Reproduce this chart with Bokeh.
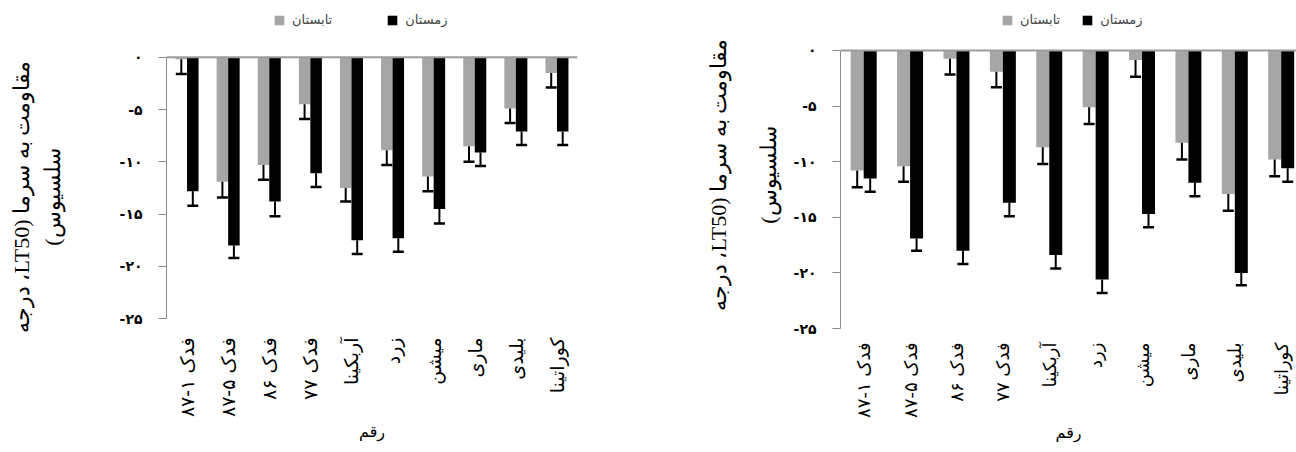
import math
from bokeh.plotting import figure
from bokeh.layouts import row
from bokeh.models import (ColumnDataSource, FixedTicker, Span, Whisker, TeeHead,
                          Legend, LegendItem, Range1d)
from bokeh.transform import dodge
from bokeh.embed import file_html
from bokeh.resources import INLINE

# ---------------- data ----------------
cultivars = ["فدک ۱-۸۷", "فدک ۵-۸۷", "فدک ۸۶", "فدک ۷۷", "آربکینا",
             "زرد", "میشن", "ماری", "بلیدی", "کوراتینا"]
season_names = ["تابستان", "زمستان"]
y_ticks = [0, -5, -10, -15, -20, -25]
y_tick_labels = ["۰", "-۵", "-۱۰", "-۱۵", "-۲۰", "-۲۵"]
y_title = "مقاومت به سرما (LT50، درجه\nسلسیوس)"
x_title = "رقم"

# left chart
left_summer = [-0.2, -11.9, -10.3, -4.5, -12.5, -8.9, -11.4, -8.5, -4.9, -1.5]
left_summer_err = [1.4, 1.5, 1.4, 1.4, 1.3, 1.4, 1.4, 1.5, 1.4, 1.4]
left_winter = [-12.8, -18.0, -13.8, -11.1, -17.5, -17.3, -14.5, -9.1, -7.1, -7.1]
left_winter_err = [1.4, 1.2, 1.4, 1.3, 1.3, 1.3, 1.4, 1.3, 1.3, 1.3]

# right chart
right_summer = [-10.8, -10.4, -0.75, -1.9, -8.7, -5.1, -0.85, -8.3, -12.9, -9.8]
right_summer_err = [1.5, 1.4, 1.4, 1.4, 1.5, 1.5, 1.5, 1.5, 1.5, 1.5]
right_winter = [-11.5, -16.9, -18.0, -13.7, -18.4, -20.6, -14.7, -11.9, -20.0, -10.6]
right_winter_err = [1.2, 1.1, 1.2, 1.2, 1.2, 1.2, 1.2, 1.2, 1.1, 1.2]

SUMMER_COLOR = "#a6a6a6"
WINTER_COLOR = "#000000"
AXIS_COLOR = "#8a8a8a"
RLE, PDF = "\u202b", "\u202c"
EM, EN = "\u2003", "\u2002"
AR_FONT = "DejaVu Sans"
TITLE_FONT = "Liberation Serif"


def make_panel(summer, s_err, winter, w_err, width, height, bl, br, bt, bb,
               x_end, y_lo, y_top, legend_loc, legend_spacing, title_standoff,
               title_lh, title_pad, xlabel_size, xlabel_standoff, xtitle_standoff):
    n = len(cultivars)
    pos = list(range(1, n + 1))
    src = ColumnDataSource(dict(
        x=pos, s=summer, w=winter,
        s_low=[v - e for v, e in zip(summer, s_err)],
        w_low=[v - e for v, e in zip(winter, w_err)],
    ))
    p = figure(width=width, height=height, x_range=Range1d(0.5, x_end),
               y_range=Range1d(y_lo, y_top), output_backend="svg",
               toolbar_location=None, min_border_left=bl, min_border_right=br,
               min_border_top=bt, min_border_bottom=bb)
    p.outline_line_color = None
    p.grid.visible = False
    bw = 0.28
    rs = p.vbar(x=dodge("x", -bw / 2, range=p.x_range), top=0, bottom="s",
                width=bw, source=src, fill_color=SUMMER_COLOR, line_color=None)
    rw = p.vbar(x=dodge("x", bw / 2, range=p.x_range), top=0, bottom="w",
                width=bw, source=src, fill_color=WINTER_COLOR, line_color=None)
    for off, up, lo in ((-bw / 2, "s", "s_low"), (bw / 2, "w", "w_low")):
        wk = Whisker(base=dodge("x", off, range=p.x_range), upper=up, lower=lo,
                     source=src, dimension="height", line_color="black",
                     line_width=2, upper_head=None,
                     lower_head=TeeHead(size=11, line_width=2.5, line_color="black"),
                     level="overlay")
        p.add_layout(wk)
    p.add_layout(Span(location=0, dimension="width", line_color="#9c9c9c",
                      line_width=2))

    # y axis
    ya = p.yaxis[0]
    ya.ticker = FixedTicker(ticks=y_ticks)
    ya.bounds = (y_ticks[-1], y_ticks[0])
    ya.major_label_overrides = {t: l for t, l in zip(y_ticks, y_tick_labels)}
    ya.minor_tick_line_color = None
    ya.axis_line_color = AXIS_COLOR
    ya.major_tick_line_color = AXIS_COLOR
    ya.major_tick_out = 8
    ya.major_tick_in = 0
    ya.major_label_standoff = 16
    ya.major_label_text_font = AR_FONT
    ya.major_label_text_font_size = "14px"
    ya.major_label_text_font_style = "bold"
    ya.major_label_text_color = "black"
    # leading spaces push the centred title down towards the centre of the bars' area
    ya.axis_label = "\n".join(RLE + title_pad + s + PDF for s in y_title.split("\n"))
    ya.axis_label_text_font = TITLE_FONT
    ya.axis_label_text_font_size = "22px"
    ya.axis_label_text_font_style = "normal"
    ya.axis_label_text_color = "black"
    ya.axis_label_text_line_height = title_lh
    ya.axis_label_standoff = title_standoff

    # x axis
    xa = p.xaxis[0]
    xa.ticker = FixedTicker(ticks=pos)
    xa.major_label_overrides = {i: c for i, c in zip(pos, cultivars)}
    xa.major_label_orientation = math.pi / 2
    xa.axis_line_color = None
    xa.major_tick_line_color = None
    xa.minor_tick_line_color = None
    xa.major_label_standoff = xlabel_standoff
    xa.major_label_text_font = AR_FONT
    xa.major_label_text_font_size = xlabel_size
    xa.major_label_text_color = "black"
    xa.axis_label = x_title
    xa.axis_label_text_font = AR_FONT
    xa.axis_label_text_font_size = "16px"
    xa.axis_label_text_font_style = "normal"
    xa.axis_label_text_color = "black"
    xa.axis_label_standoff = xtitle_standoff

    legend = Legend(items=[LegendItem(label=season_names[0], renderers=[rs]),
                           LegendItem(label=season_names[1], renderers=[rw])],
                    orientation="horizontal", location=legend_loc,
                    padding=0, margin=0, border_line_color=None,
                    background_fill_alpha=0, glyph_width=12, glyph_height=12,
                    label_height=12, label_standoff=7, spacing=legend_spacing,
                    label_text_font=AR_FONT, label_text_font_size="13px")
    p.add_layout(legend)
    return p


# both frames span 10 px .. 328 px (a row shares its plots' borders);
# left: 0 at 56.7 px, -25 at 318.3 px; right: 0 at 50 px, -25 at 328 px
left = make_panel(left_summer, left_summer_err, left_winter, left_winter_err,
                  width=640, height=452, bl=166, br=63, bt=10, bb=124,
                  x_end=10.5, y_lo=-25.927, y_top=4.463,
                  legend_loc=(107, 301), legend_spacing=54,
                  title_standoff=52, title_lh=1.22, title_pad=EM * 2 + EN,
                  xlabel_size="19px", xlabel_standoff=3, xtitle_standoff=2)
right = make_panel(right_summer, right_summer_err, right_winter, right_winter_err,
                   width=656, height=452, bl=200, br=0, bt=10, bb=124,
                   x_end=10.33, y_lo=-25.0, y_top=3.597,
                   legend_loc=(161, 301), legend_spacing=21,
                   title_standoff=10, title_lh=2.0, title_pad=EN,
                   xlabel_size="18px", xlabel_standoff=8, xtitle_standoff=2)

layout = row(left, right)
open("out.html", "w").write(file_html(layout, INLINE))
